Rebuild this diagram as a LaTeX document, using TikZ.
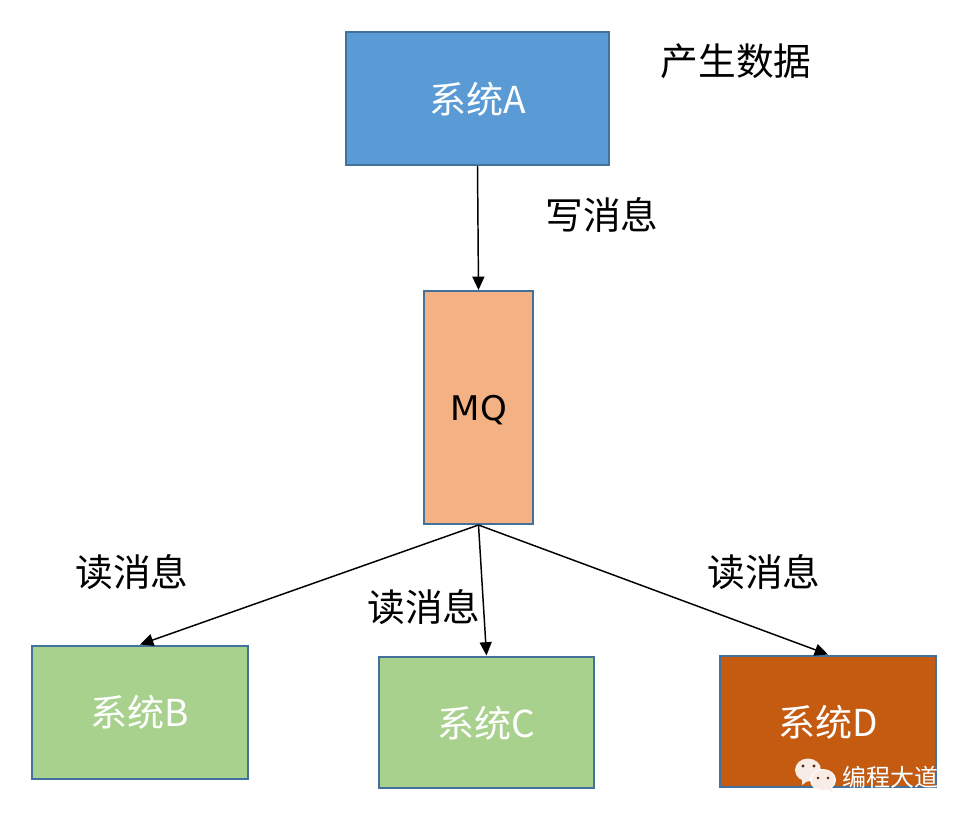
\documentclass[tikz,border=0pt]{standalone}
\usepackage{fontspec}
\setmainfont{Noto Sans CJK SC}
\newfontfamily\mqfont{DejaVu Sans}
\definecolor{boxedge}{HTML}{41719C}
\definecolor{bluefill}{HTML}{5B9BD5}
\definecolor{orangefill}{HTML}{F4B183}
\definecolor{greenfill}{HTML}{A9D18E}
\definecolor{brownfill}{HTML}{C55A11}
\definecolor{iconfill}{HTML}{F8EDE6}
\usetikzlibrary{arrows.meta}
\tikzset{
  sysbox/.style={draw=boxedge,line width=1.5pt,inner sep=0pt},
  systext/.style={inner sep=0pt,text=white,font=\fontsize{27.8}{30}\selectfont},
  labeltext/.style={inner sep=0pt,font=\fontsize{28.3}{30}\selectfont,text=black},
  conn/.style={draw=black,line width=1.1pt,-{Triangle[length=10pt,width=9pt]}},
}
\begin{document}
\begin{tikzpicture}[x=0.75pt,y=-0.75pt]
\useasboundingbox (0,0) rectangle (969,820);
\fill[white] (0,0) rectangle (969,820);
\node[sysbox,fill=bluefill,minimum width=197.25pt,minimum height=99.75pt] (a) at (477.5,98.5) {};
\node[sysbox,fill=orangefill,minimum width=81.75pt,minimum height=174.75pt] (mq) at (478.5,407.5) {};
\node[sysbox,fill=greenfill,minimum width=162pt,minimum height=99.75pt] (b) at (140,712) {};
\node[sysbox,fill=greenfill,minimum width=161.25pt,minimum height=98.25pt] (c) at (486.5,722) {};
\node[sysbox,fill=brownfill,minimum width=162pt,minimum height=98.25pt] (d) at (828,721) {};
\node[systext] (ta) at (477.5,99) {系统A};
\node[inner sep=0pt,text=black,font=\mqfont\fontsize{25.5}{30}\selectfont] (tmq) at (479,410) {MQ};
\node[systext] (tb) at (140,712) {系统B};
\node[systext] (tc) at (486,723) {系统C};
\node[systext] (td) at (828,722) {系统D};
\node[labeltext] (l1) at (736,61) {产生数据};
\node[labeltext] (l2) at (602,215) {写消息};
\node[labeltext] (l3) at (132,572) {读消息};
\node[labeltext] (l4) at (424,607) {读消息};
\node[labeltext] (l5) at (764,572) {读消息};
\draw[conn] (a.south) -- (mq.north);
\draw[conn] (mq.south) -- (b.north);
\draw[conn] (mq.south) -- (c.north);
\draw[conn] (mq.south) -- (d.north);
% watermark
\begin{scope}
\fill[iconfill] (808,770) ellipse (13 and 11.5);
\fill[iconfill] (802,779) -- (802,785) -- (809,780) -- cycle;
\fill[white] (823,780) ellipse (13 and 11);
\fill[iconfill] (823,780) ellipse (11.5 and 10);
\fill[iconfill] (826,788) -- (832,792) -- (831,786) -- cycle;
\fill[black!60!brownfill] (803,766) circle (1.6) (814,766) circle (1.6);
\fill[black!60!brownfill] (818,778) circle (1.4) (828,778) circle (1.4);
\end{scope}
\node[inner sep=0pt,text=gray,opacity=.7,font=\fontsize{18}{20}\selectfont] (wms) at (890.7,777.7) {编程大道};
\node[inner sep=0pt,text=white,font=\fontsize{18}{20}\selectfont] (wm) at (890,777) {编程大道};
\end{tikzpicture}
\end{document}
